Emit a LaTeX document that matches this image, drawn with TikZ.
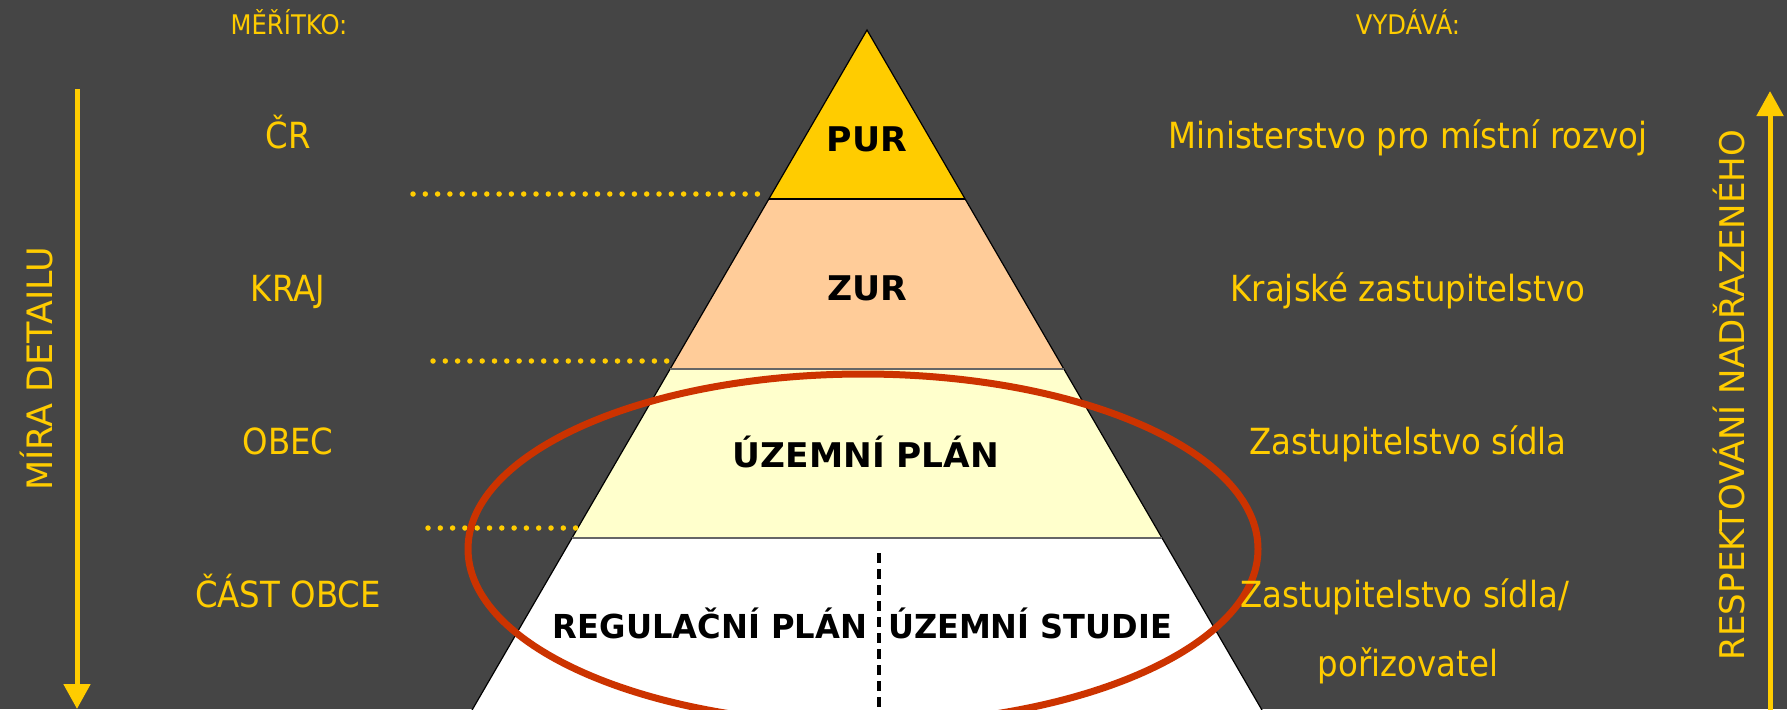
\documentclass[tikz,border=0pt]{standalone}
\usepackage{fontspec}
\setmainfont{DejaVu Sans}
\usetikzlibrary{arrows.meta}
\definecolor{bg}{HTML}{454545}
\definecolor{gold}{HTML}{FFCC00}
\definecolor{peach}{HTML}{FFCC99}
\definecolor{cream}{HTML}{FFFFCC}
\definecolor{ring}{HTML}{CC3300}
\newcommand{\nar}[2][0.9]{\scalebox{#1}[1]{#2}}
\tikzset{
  lab/.style={text=gold, font=\fontsize{36}{40}\selectfont, anchor=base, inner sep=0pt},
  headlab/.style={text=gold, font=\fontsize{27}{30}\selectfont, anchor=base, inner sep=0pt},
  lvl/.style={text=black, font=\fontsize{34}{40}\selectfont\bfseries, anchor=base, inner sep=0pt},
  sublvl/.style={text=black, font=\fontsize{33}{36}\selectfont\bfseries, anchor=base, inner sep=0pt},
  dotline/.style={gold, line width=5.5pt, line cap=round, dash pattern=on 0pt off 12.3pt},
  sidelab/.style={text=gold, rotate=90, inner sep=0pt},
  axisarrow/.style={gold, line width=5pt, -{Triangle[length=25pt,width=26pt]}},
  edge/.style={black, line width=1.2pt},
  sep/.style={line width=2.2pt},
}
\begin{document}
\begin{tikzpicture}[x=1pt,y=-1pt]
\useasboundingbox (0,0) rectangle (1787,709);
\fill[bg] (0,0) rectangle (1787,709);

% pyramid corner points
\coordinate (apex) at (867,30);
\coordinate (L1) at (768.9,199);  \coordinate (R1) at (965.1,199);
\coordinate (L2) at (670.1,369);  \coordinate (R2) at (1063.9,369);
\coordinate (L3) at (572,538);    \coordinate (R3) at (1162,538);
\coordinate (L4) at (470.9,712);  \coordinate (R4) at (1263.1,712);

\fill[gold]  (apex) -- (L1) -- (R1) -- cycle;
\fill[peach] (L1) -- (L2) -- (R2) -- (R1) -- cycle;
\fill[cream] (L2) -- (L3) -- (R3) -- (R2) -- cycle;
\fill[white] (L3) -- (L4) -- (R4) -- (R3) -- cycle;
\draw[edge] (L4) -- (apex) -- (R4);
\draw[sep, black] (L1) -- (R1);
\draw[sep, gray!80!black] (L2) -- (R2);
\draw[sep, gray!80!black] (L3) -- (R3);

% dotted guide lines
\coordinate (d1a) at (413,194); \coordinate (d1b) at (758,194);
\coordinate (d2a) at (433,361); \coordinate (d2b) at (667,361);
\coordinate (d3a) at (428,528); \coordinate (d3b) at (577,528);
\draw[dotline] (d1a) -- (d1b);
\draw[dotline] (d2a) -- (d2b);
\draw[dotline] (d3a) -- (d3b);

% dashed divider
\coordinate (dvt) at (879,553); \coordinate (dvb) at (879,712);
\draw[black, line width=3.5pt, dash pattern=on 10pt off 6pt] (dvt) -- (dvb);

% red ellipse
\draw[ring, line width=7pt] (863,549) ellipse [x radius=395, y radius=175];

% axis arrows
\coordinate (la) at (77,89);  \coordinate (lb) at (77,709);
\coordinate (ra) at (1770,712); \coordinate (rb) at (1770,91);
\draw[axisarrow] (la) -- (lb);
\draw[axisarrow] (ra) -- (rb);

% level labels inside pyramid
\node[lvl] (pur) at (867,151) {\nar[1.02]{PUR}};
\node[lvl] (zur) at (867,300) {\nar[1.02]{ZUR}};
\node[lvl] (up) at (866,467) {\nar[1.01]{ÚZEMNÍ PLÁN}};
\node[sublvl] (rp) at (710,638) {\nar[0.975]{REGULAČNÍ PLÁN}};
\node[sublvl] (us) at (1030,638) {\nar[0.97]{ÚZEMNÍ STUDIE}};

% headers
\node[headlab] (meritko) at (289,35) {\nar{MĚŘÍTKO:}};
\node[headlab] (vydava) at (1408,35) {\nar{VYDÁVÁ:}};

% left scale labels
\node[lab] (cr) at (288,148) {\nar{ČR}};
\node[lab] (kraj) at (288,301) {\nar{KRAJ}};
\node[lab] (obec) at (288,454) {\nar{OBEC}};
\node[lab] (cast) at (288,607) {\nar{ČÁST OBCE}};

% right issuer labels
\node[lab] (mmr) at (1408,148) {\nar{Ministerstvo pro místní rozvoj}};
\node[lab] (kz) at (1408,301) {\nar{Krajské zastupitelstvo}};
\node[lab] (zs) at (1408,454) {\nar{Zastupitelstvo sídla}};
\node[lab] (zs2) at (1405,607) {\nar{Zastupitelstvo sídla/}};
\node[lab] (por) at (1408,676) {\nar{pořizovatel}};

% side labels
\node[sidelab, font=\fontsize{35}{40}\selectfont] (mira) at (37,369) {MÍRA DETAILU};
\node[sidelab, font=\fontsize{34}{40}\selectfont] (resp) at (1729,395) {RESPEKTOVÁNÍ NADŘAZENÉHO};
\end{tikzpicture}
\end{document}
